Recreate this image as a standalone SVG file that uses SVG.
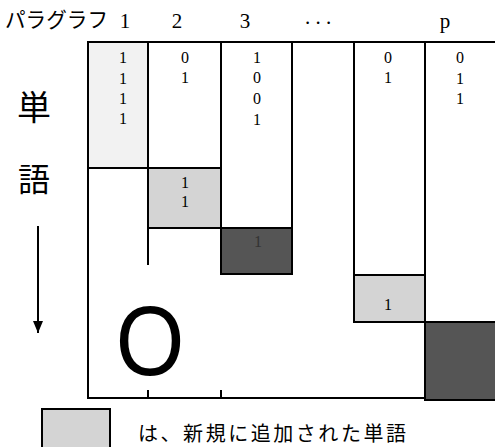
<svg xmlns="http://www.w3.org/2000/svg" width="495" height="447" viewBox="0 0 495 447">
<defs>
<style>
.ln{stroke:#000;stroke-width:2;fill:none}
.bx{stroke:#000;stroke-width:2}
.lt{fill:#f2f2f2}
.md{fill:#d4d4d4}
.dk{fill:#555555}
.d{font-family:"Liberation Serif",serif;font-size:16px;text-anchor:middle;fill:#000}
.h{font-family:"Liberation Serif",serif;font-size:21px;text-anchor:middle;fill:#000}
.j{font-family:"Noto Sans CJK JP",sans-serif;fill:#000}
</style>
<marker id="ah" markerWidth="12" markerHeight="10" refX="12" refY="5" orient="auto" markerUnits="userSpaceOnUse" viewBox="0 0 12 10">
<path d="M0,0 L12,5 L0,10 Z" fill="#000"/>
</marker>
</defs>
<rect width="495" height="447" fill="#fff"/>

<g id="header">
<text class="j" x="5" y="27" font-size="21" textLength="103" lengthAdjust="spacingAndGlyphs">パラグラフ</text>
<text class="h" x="125" y="28">1</text>
<text class="h" x="177" y="28">2</text>
<text class="h" x="245" y="28">3</text>
<text class="h" x="318" y="24">. . .</text>
<text class="h" x="445" y="28">p</text>
</g>

<g id="axis-label">
<text class="j" x="34" y="120" font-size="34" text-anchor="middle">単</text>
<text class="j" x="34" y="191" font-size="32" text-anchor="middle">語</text>
</g>

<g id="col1">
<rect class="lt" x="88" y="42" width="60" height="126"/>
<text class="d" x="123" y="63">1</text>
<text class="d" x="123" y="84">1</text>
<text class="d" x="123" y="104">1</text>
<text class="d" x="123" y="124">1</text>
</g>

<g id="col2">
<text class="d" x="185" y="63">0</text>
<text class="d" x="185" y="83">1</text>
<rect class="md bx" x="148" y="168" width="73" height="60"/>
<text class="d" x="185" y="188">1</text>
<text class="d" x="185" y="207">1</text>
</g>

<g id="col3">
<text class="d" x="257" y="63">1</text>
<text class="d" x="257" y="83">0</text>
<text class="d" x="257" y="104">0</text>
<text class="d" x="257" y="125">1</text>
<rect class="dk bx" x="221" y="228" width="71" height="46"/>
<text class="d" x="258" y="247" style="fill:#333">1</text>
</g>

<g id="col4">
<text class="d" x="388" y="63">0</text>
<text class="d" x="388" y="83">1</text>
<rect class="md bx" x="354" y="275" width="71" height="47"/>
<text class="d" x="388" y="310">1</text>
</g>

<g id="colp">
<text class="d" x="460" y="63">0</text>
<text class="d" x="460" y="84">1</text>
<text class="d" x="460" y="104">1</text>
<rect class="dk bx" x="425" y="322" width="72" height="78"/>
</g>

<g id="matrix">
<line class="ln" x1="87" y1="42" x2="495" y2="42"/>
<line class="ln" x1="88" y1="41" x2="88" y2="399"/>
<line class="ln" x1="87" y1="398" x2="425" y2="398"/>
<line class="ln" x1="88" y1="168" x2="221" y2="168"/>
<line class="ln" x1="148" y1="42" x2="148" y2="265"/>
<line class="ln" x1="221" y1="42" x2="221" y2="274"/>
<line class="ln" x1="292" y1="42" x2="292" y2="274"/>
<line class="ln" x1="354" y1="42" x2="354" y2="322"/>
<line class="ln" x1="425" y1="42" x2="425" y2="400"/>
<line class="ln" x1="148" y1="390" x2="148" y2="398"/>
<line class="ln" x1="221" y1="390" x2="221" y2="398"/>
</g>

<g id="zero">
<text x="150" y="375" font-family="Liberation Sans, sans-serif" font-size="98" text-anchor="middle" transform="translate(150 0) scale(0.9 1) translate(-150 0)">O</text>
</g>

<g id="connectors">
<line class="ln" x1="38" y1="226" x2="38" y2="333" marker-end="url(#ah)"/>
</g>

<g id="legend">
<rect class="md bx" x="42" y="409" width="68" height="40"/>
<text class="j" x="138" y="441" font-size="20" textLength="268" lengthAdjust="spacing">は、新規に追加された単語</text>
</g>
</svg>
